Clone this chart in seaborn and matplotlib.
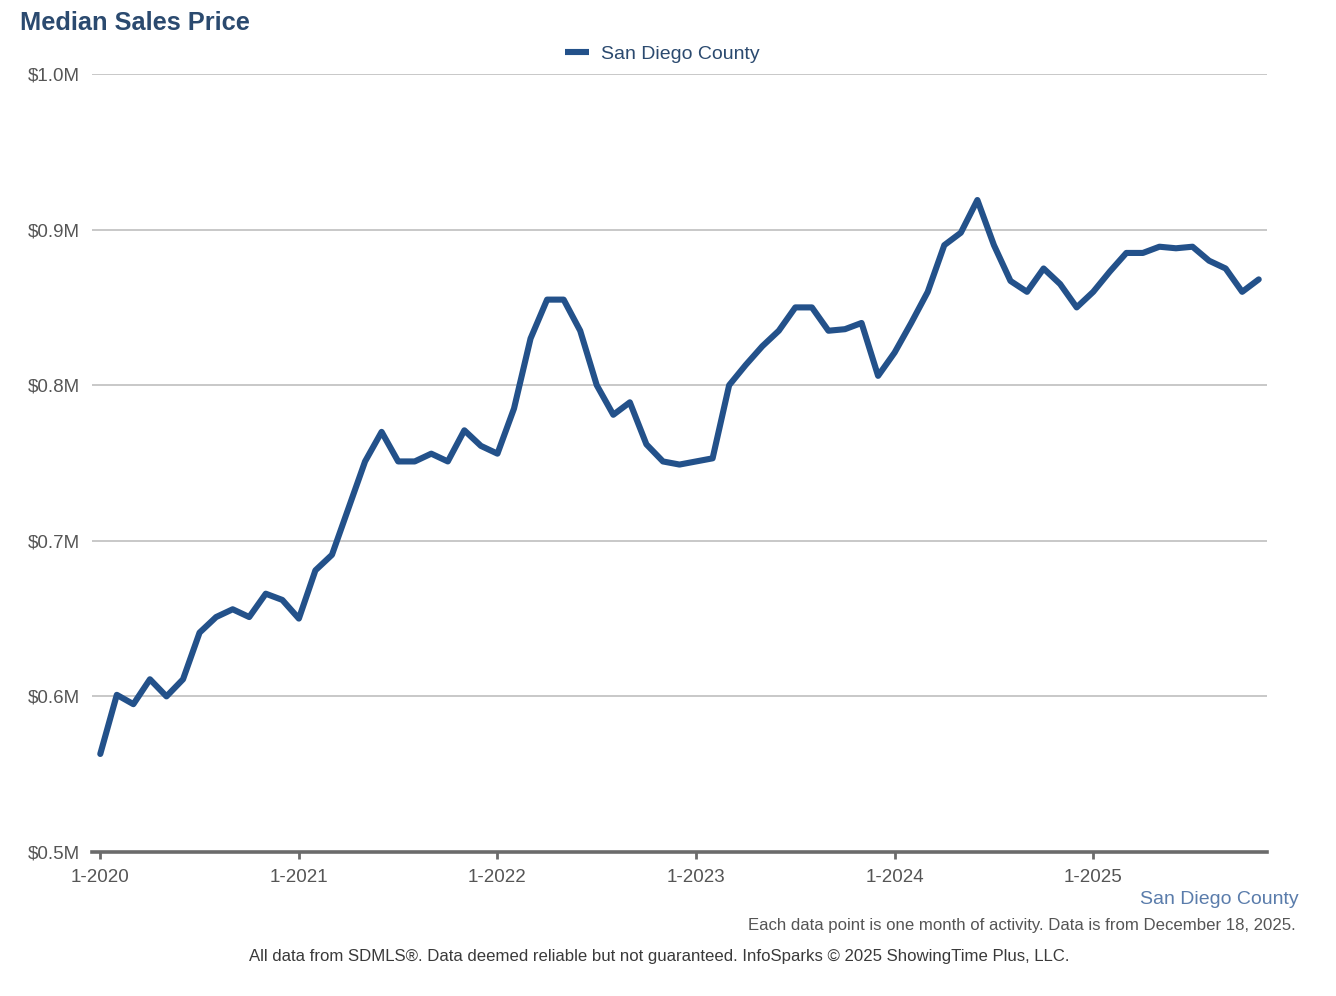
import numpy as np
import pandas as pd
import matplotlib
matplotlib.use("Agg")
import matplotlib.pyplot as plt
import seaborn as sns

# ── Data: monthly median sales price, San Diego County (in $M) ──
START_MONTH = "2020-01"
PRICES = [
    0.563, 0.601, 0.595, 0.611, 0.600, 0.611, 0.641, 0.651, 0.656, 0.651, 0.666, 0.662,  # 2020
    0.650, 0.681, 0.691, 0.721, 0.751, 0.770, 0.751, 0.751, 0.756, 0.751, 0.771, 0.761,  # 2021
    0.756, 0.785, 0.830, 0.855, 0.855, 0.835, 0.800, 0.781, 0.789, 0.762, 0.751, 0.749,  # 2022
    0.751, 0.753, 0.800, 0.813, 0.825, 0.835, 0.850, 0.850, 0.835, 0.836, 0.840, 0.806,  # 2023
    0.821, 0.840, 0.860, 0.890, 0.898, 0.919, 0.890, 0.867, 0.860, 0.875, 0.865, 0.850,  # 2024
    0.860, 0.873, 0.885, 0.885, 0.889, 0.888, 0.889, 0.880, 0.875, 0.860, 0.868,         # 2025
]
SERIES_NAME = "San Diego County"
X_TICK_LABELS = ["1-2020", "1-2021", "1-2022", "1-2023", "1-2024", "1-2025"]
Y_TICKS = [0.5, 0.6, 0.7, 0.8, 0.9, 1.0]

LINE_COLOR = "#23518a"
TITLE_COLOR = "#2b4a6f"
GRID_COLOR = "#c4c4c4"
TEXT_GRAY = "#555555"

W, H = 1336, 996

months = pd.period_range(START_MONTH, periods=len(PRICES), freq="M")
df = pd.DataFrame({
    "month_idx": np.arange(len(PRICES)),
    "month": months.astype(str),
    "price": PRICES,
    "area": SERIES_NAME,
})

sns.set_theme(style="white")
plt.rcParams["font.family"] = ["Liberation Sans", "DejaVu Sans"]

fig = plt.figure(figsize=(W / 100, H / 100), dpi=100)
ax = fig.add_axes([92 / W, 1 - 852 / H, (1267 - 92) / W, (852 - 74) / H])

sns.lineplot(data=df, x="month_idx", y="price", hue="area",
             palette=[LINE_COLOR], linewidth=4.4, ax=ax,
             solid_joinstyle="round", solid_capstyle="round")

# ── Axes styling ──
ax.set_xlim(-0.5, len(PRICES) - 0.5)
ax.set_ylim(0.5, 1.0)
ax.set_yticks(Y_TICKS)
ax.set_yticklabels([f"${v:.1f}M" for v in Y_TICKS])
ax.set_xticks(np.arange(0, len(PRICES), 12)[:len(X_TICK_LABELS)])
ax.set_xticklabels(X_TICK_LABELS)
ax.set_xlabel("")
ax.set_ylabel("")

ax.yaxis.grid(True, color=GRID_COLOR, linewidth=1.3)
ax.xaxis.grid(False)
ax.set_axisbelow(True)
for side in ["top", "right", "left"]:
    ax.spines[side].set_visible(False)
ax.spines["bottom"].set_color("#6b6b6b")
ax.spines["bottom"].set_linewidth(2.6)

ax.tick_params(axis="y", length=0, pad=9, labelsize=13.5, labelcolor=TEXT_GRAY)
ax.tick_params(axis="x", direction="out", length=5, width=2, color="#6b6b6b",
               pad=7, labelsize=13.5, labelcolor=TEXT_GRAY, bottom=True)

# ── Legend ──
leg = ax.legend(loc="center", bbox_to_anchor=(662 / W, 1 - 54 / H),
                bbox_transform=fig.transFigure, frameon=False,
                fontsize=14, handlelength=1.25, handletextpad=0.6,
                borderaxespad=0.0, borderpad=0.0)
for t in leg.get_texts():
    t.set_color(TITLE_COLOR)
for h in leg.get_lines():
    h.set_linewidth(4.4)
    h.set_solid_capstyle("butt")

# ── Titles and footers ──
fig.text(20 / W, 1 - 23 / H, "Median Sales Price", fontsize=18.3,
         fontweight="bold", color=TITLE_COLOR, ha="left", va="center")
fig.text(1299 / W, 1 - 899 / H, SERIES_NAME, fontsize=14,
         color="#5a7cab", ha="right", va="center")
fig.text(1296 / W, 1 - 925 / H,
         "Each data point is one month of activity. Data is from December 18, 2025.",
         fontsize=12.1, color=TEXT_GRAY, ha="right", va="center")
fig.text(659 / W, 1 - 956 / H,
         "All data from SDMLS®. Data deemed reliable but not guaranteed. "
         "InfoSparks © 2025 ShowingTime Plus, LLC.",
         fontsize=12.1, color="#3a3a3a", ha="center", va="center")

fig.savefig("out.png", dpi=100, facecolor="white")
plt.close(fig)
